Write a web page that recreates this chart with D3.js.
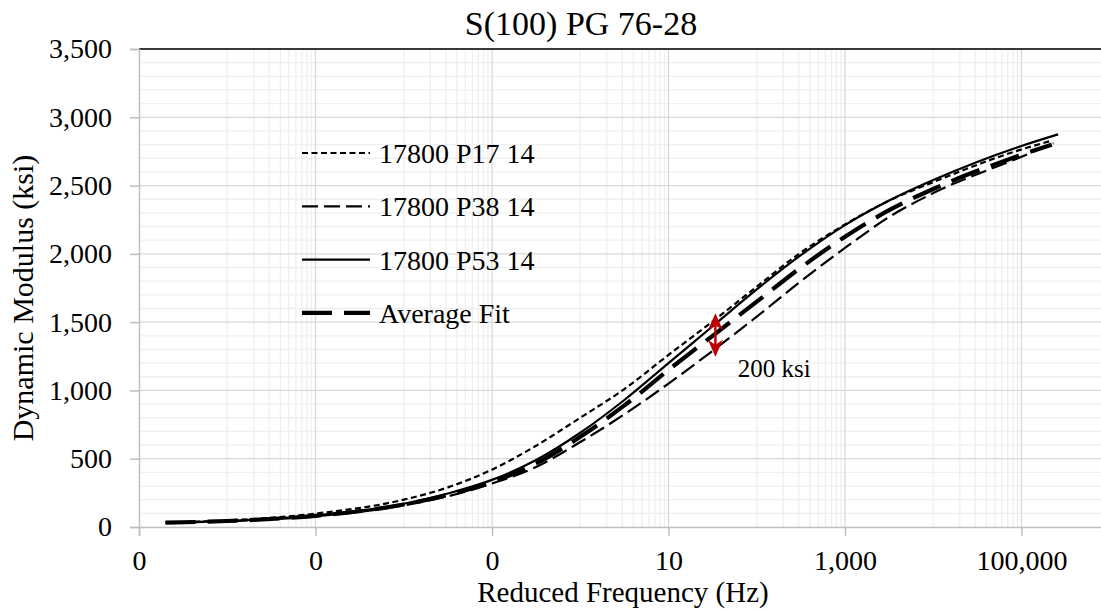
<!DOCTYPE html>
<html>
<head>
<meta charset="UTF-8">
<script src="https://cdn.jsdelivr.net/npm/d3@7"></script>
<style>
  * { margin: 0; padding: 0; }
  html, body { width: 1101px; height: 611px; background: #fff; overflow: hidden; }
  svg { display: block; font-family: "Liberation Serif", "Times New Roman", serif; }
</style>
</head>
<body>
<svg id="chart" width="1101" height="611"></svg>
<script>
// --- data ---
var seriesNames = ["17800 P17 14", "17800 P38 14", "17800 P53 14", "Average Fit"];
var freq = [2e-5, 1e-4, 1e-3, 1e-2, 0.0316, 0.1, 0.316, 1, 3.16, 10, 31.6, 100, 316, 1e3, 3162, 1e4, 1e5];
var endFreq = [2.1e5, 2.3e5, 2.6e5, 2.2e5];   // last point of each series
var p17 = [33, 48, 98, 200, 290, 420, 595, 800, 1010, 1260, 1505, 1760, 2010, 2215, 2390, 2525, 2765, 2825];
var p38 = [31, 42, 78, 158, 225, 318, 440, 622, 825, 1050, 1290, 1540, 1800, 2043, 2270, 2445, 2711, 2810];
var p53 = [33, 45, 85, 170, 245, 345, 490, 690, 930, 1200, 1470, 1740, 1990, 2210, 2390, 2540, 2790, 2875];
var avgFit = [32, 44, 82, 165, 235, 330, 465, 660, 890, 1150, 1400, 1650, 1900, 2125, 2320, 2475, 2725, 2800];
var xTicks = [1e-5, 1e-3, 1e-1, 10, 1e3, 1e5];
var yTicks = [0, 500, 1000, 1500, 2000, 2500, 3000, 3500];

// annotation (data coords)
var arrowFreq = 34, arrowTop = 1565, arrowBottom = 1247;
var noteFreq = 61, noteVal = 1100;

var svg = d3.select("#chart");
var x = d3.scaleLog().domain([1e-5, 1e7]).range([139, 1198]);
var y = d3.scaleLinear().domain([0, 3500]).range([527, 49]);
var fmt = d3.format(",.0f");

// minor grid
var minorX = [];
[-5, -3, -1, 1, 3, 5].forEach(function(k) {
  for (var m = 1; m <= 9; m++) minorX.push(m * Math.pow(10, k + 1));
});
var minorY = d3.range(100, 3500, 100).filter(function(v) { return v % 500 !== 0; });

var grid = svg.append("g");
grid.selectAll(".mx").data(minorX).enter().append("line")
  .attr("x1", function(d) { return x(d); }).attr("x2", function(d) { return x(d); })
  .attr("y1", y(0)).attr("y2", y(3500))
  .attr("stroke", "#efefef").attr("stroke-width", 1.3);
grid.selectAll(".my").data(minorY).enter().append("line")
  .attr("x1", x(1e-5)).attr("x2", x(1e7))
  .attr("y1", function(d) { return y(d); }).attr("y2", function(d) { return y(d); })
  .attr("stroke", "#efefef").attr("stroke-width", 1.3);
grid.selectAll(".Mx").data(xTicks.slice(1)).enter().append("line")
  .attr("x1", function(d) { return x(d); }).attr("x2", function(d) { return x(d); })
  .attr("y1", y(0)).attr("y2", y(3500))
  .attr("stroke", "#d9d9d9").attr("stroke-width", 1.3);
grid.selectAll(".My").data(yTicks.slice(1)).enter().append("line")
  .attr("x1", x(1e-5)).attr("x2", x(1e7))
  .attr("y1", function(d) { return y(d); }).attr("y2", function(d) { return y(d); })
  .attr("stroke", "#d9d9d9").attr("stroke-width", 1.3);

// top border
svg.append("line").attr("x1", x(1e-5)).attr("x2", x(1e7))
  .attr("y1", y(3500)).attr("y2", y(3500)).attr("stroke", "#000").attr("stroke-width", 1.3);

// axes
var yAxis = svg.append("g").attr("transform", "translate(" + x(1e-5) + ",0)")
  .call(d3.axisLeft(y).tickValues(yTicks).tickFormat(fmt).tickSize(9).tickPadding(18));
var xAxis = svg.append("g").attr("transform", "translate(0," + y(0) + ")")
  .call(d3.axisBottom(x).tickValues(xTicks).tickFormat(fmt).tickSize(9).tickPadding(14));
[yAxis, xAxis].forEach(function(a) {
  a.select(".domain").attr("stroke", "#bfbfbf").attr("stroke-width", 1.5);
  a.selectAll(".tick line").attr("stroke", "#bfbfbf").attr("stroke-width", 1.5);
  a.selectAll(".tick text").attr("fill", "#000").attr("font-size", 28)
    .attr("font-family", "Liberation Serif, Times New Roman, serif");
});

// series
var styles = [
  { w: 2.2, dash: "6,3.5" },
  { w: 2.2, dash: "16,6" },
  { w: 2.2, dash: null },
  { w: 4.2, dash: "30,12" }
];
var values = [p17, p38, p53, avgFit];
var line = d3.line()
  .x(function(d) { return x(d[0]); })
  .y(function(d) { return y(d[1]); })
  .curve(d3.curveMonotoneX);

values.forEach(function(vals, i) {
  var pts = vals.map(function(v, j) { return [j < freq.length ? freq[j] : endFreq[i], v]; });
  svg.append("path").datum(pts)
    .attr("fill", "none").attr("stroke", "#000")
    .attr("stroke-width", styles[i].w)
    .attr("stroke-dasharray", styles[i].dash)
    .attr("d", line);
});

// legend
var leg = svg.append("g");
seriesNames.forEach(function(name, i) {
  var ly = 153 + i * 53.3;
  leg.append("line").attr("x1", 302).attr("x2", 370).attr("y1", ly).attr("y2", ly)
    .attr("stroke", "#000").attr("stroke-width", styles[i].w)
    .attr("stroke-dasharray", styles[i].dash);
  leg.append("text").attr("x", 379).attr("y", ly + 10).attr("font-size", 28).text(name);
});

// red double arrow + note
var red = "#c00000";
var ax = x(arrowFreq), at = y(arrowTop), ab = y(arrowBottom);
svg.append("line").attr("x1", ax).attr("x2", ax).attr("y1", at + 10).attr("y2", ab - 10)
  .attr("stroke", red).attr("stroke-width", 2.5);
svg.append("path").attr("fill", red)
  .attr("d", "M" + ax + "," + at + "L" + (ax - 7.5) + "," + (at + 17) + "L" + ax + "," + (at + 12) + "L" + (ax + 7.5) + "," + (at + 17) + "Z");
svg.append("path").attr("fill", red)
  .attr("d", "M" + ax + "," + ab + "L" + (ax - 7.5) + "," + (ab - 17) + "L" + ax + "," + (ab - 12) + "L" + (ax + 7.5) + "," + (ab - 17) + "Z");
svg.append("text").attr("x", x(noteFreq)).attr("y", y(noteVal)).attr("font-size", 25).text("200 ksi");

// titles
svg.append("text").attr("x", 581).attr("y", 35).attr("text-anchor", "middle")
  .attr("font-size", 34).text("S(100) PG 76-28");
svg.append("text").attr("x", 623).attr("y", 602).attr("text-anchor", "middle")
  .attr("font-size", 29).text("Reduced Frequency (Hz)");
svg.append("text").attr("transform", "translate(33,298) rotate(-90)").attr("text-anchor", "middle")
  .attr("font-size", 30).text("Dynamic Modulus (ksi)");
</script>
</body>
</html>
